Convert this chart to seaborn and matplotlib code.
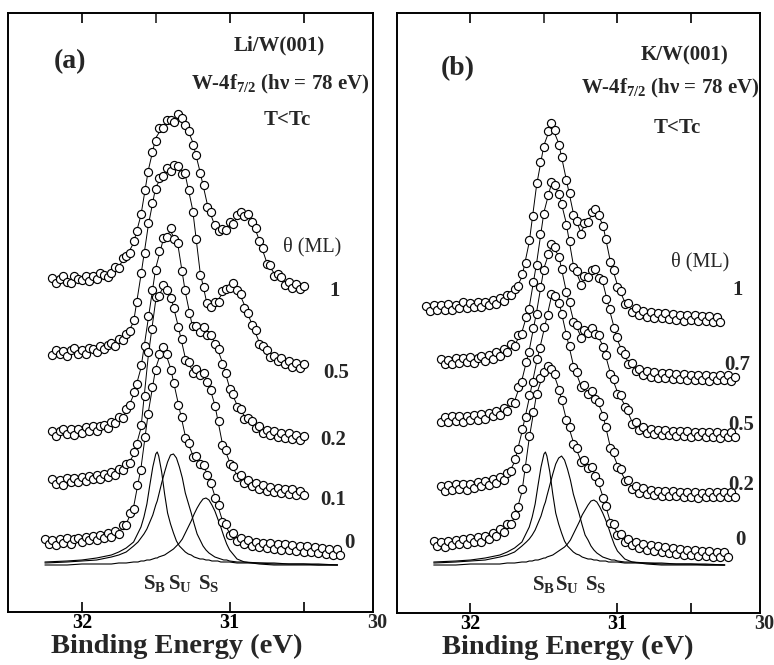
import numpy as np
import matplotlib
matplotlib.use("Agg")
import matplotlib.pyplot as plt
import seaborn as sns

# ---------------------------------------------------------------------------
# W-4f7/2 core-level spectra (binding energy in eV, intensity in arb. units)
# Fitted curves are sampled every 0.05 eV, measured points every 0.025 eV,
# both starting at the listed energy and running toward lower binding energy.
# ---------------------------------------------------------------------------

# Li/W(001)
li_coverage = ["1", "0.5", "0.2", "0.1", "0"]
li_start = [32.2, 32.2, 32.2, 32.2, 32.25]

li_fit_1 = [0, 0, 0, 1, 1, 2, 3, 4, 7, 14, 23, 37, 65, 110, 142, 154, 159, 162, 156, 138,
            108, 75, 54, 49, 54, 62, 65, 60, 40, 18, 7, 0, -4, -7, -8]
li_fit_05 = [0, 0, 0, 1, 1, 2, 3, 5, 7, 11, 17, 31, 78, 128, 166, 178, 184, 186, 178, 143,
             81, 47, 49, 59, 67, 65, 48, 29, 11, 0, -5, -8, -10, -12, -14]
li_fit_02 = [-1, -1, 0, 0, 1, 2, 3, 4, 7, 12, 20, 37, 64, 114, 164, 192, 201, 187, 140, 104,
             102, 100, 90, 70, 44, 27, 16, 9, 4, 0, -2, -3, -4, -5, -5]
li_fit_01 = [0, 0, 0, 1, 2, 3, 4, 5, 7, 10, 15, 27, 54, 127, 182, 194, 187, 157, 124, 111,
             109, 102, 77, 39, 20, 7, 1, -2, -5, -7, -8, -9, -10, -10, -11]
li_fit_0 = [0, 0, 0, 1, 1, 2, 3, 4, 5, 7, 10, 18, 35, 74, 130, 174, 196, 174, 140, 106,
            87, 79, 69, 46, 22, 9, 3, 0, -2, -3, -4, -4, -5, -6, -6, -7, -8, -9, -9, -10, -11]

li_pts_1 = [2, -3, 1, 4, -2, -3, 4, 1, 0, 4, -1, 4, 1, 7, 5, 3, 7, 13, 12, 22,
            24, 27, 39, 49, 66, 90, 108, 128, 139, 152, 152, 160, 160, 158, 166, 162, 155, 149, 135, 125,
            107, 95, 73, 68, 55, 49, 51, 50, 58, 56, 65, 68, 64, 66, 58, 52, 39, 32, 16, 15,
            4, 6, 3, -5, -2, -8, -4, -9, -6]
li_pts_05 = [-2, 3, -1, 2, -3, 3, 5, -1, 3, -1, 5, 4, 1, 7, 4, 8, 10, 7, 14, 13,
             19, 22, 33, 51, 80, 100, 130, 150, 164, 175, 177, 185, 182, 188, 187, 179, 180, 163, 141, 114,
             78, 66, 50, 46, 51, 51, 62, 64, 65, 70, 63, 59, 45, 40, 28, 23, 9, 7, 3, -4,
             -3, -8, -5, -11, -8, -14, -10, -15, -11]
li_pts_02 = [1, -4, 1, 3, -2, 3, -3, 3, -1, 5, 1, 6, 1, 6, 7, 4, 10, 9, 15, 14,
             23, 27, 40, 48, 67, 86, 116, 142, 162, 181, 194, 195, 204, 193, 189, 161, 142, 119, 106, 106,
             100, 105, 97, 97, 88, 83, 68, 59, 43, 38, 25, 23, 13, 14, 11, 4, 6, -1, 2, -3,
             1, -5, -1, -6, -1, -7, -3, -8, -4]
li_pts_01 = [3, -2, 2, -3, 4, 0, 4, 0, 5, 1, 6, 3, 7, 3, 8, 5, 10, 7, 13, 12,
             18, 19, 30, 38, 57, 86, 130, 153, 185, 186, 197, 192, 184, 174, 155, 143, 122, 120, 109, 113,
             107, 109, 100, 92, 76, 61, 37, 32, 18, 16, 5, 7, -1, 2, -4, -1, -7, -3, -9, -5,
             -10, -6, -11, -7, -12, -7, -13, -9, -13]
li_pts_0 = [3, -2, 2, -3, 3, -1, 4, -2, 3, 4, 0, 5, 2, 6, 2, 7, 4, 9, 5, 11,
            8, 17, 17, 29, 33, 57, 72, 105, 128, 155, 172, 188, 195, 188, 172, 159, 137, 125, 104, 99,
            85, 86, 78, 77, 67, 59, 44, 37, 20, 18, 7, 9, 1, 4, -2, 2, -4, 0, -5, -1,
            -6, -1, -7, -2, -8, -2, -8, -3, -9, -4, -10, -4, -10, -5, -11, -6, -12, -7, -13, -7,
            -13]

# K/W(001)
k_coverage = ["1", "0.7", "0.5", "0.2", "0"]
k_start = [32.3, 32.2, 32.2, 32.2, 32.25]

k_fit_1 = [0, 0, 0, 1, 1, 2, 2, 3, 4, 5, 7, 10, 17, 31, 66, 123, 163, 183, 165, 130,
           95, 76, 88, 97, 84, 48, 23, 6, -2, -5, -7, -8, -8, -9, -9, -10, -10, -11, -11, -12, -12]
k_fit_07 = [0, 0, 1, 1, 2, 2, 3, 5, 8, 12, 17, 30, 55, 99, 150, 178, 170, 140, 97, 79,
            86, 91, 80, 50, 22, 5, -4, -10, -12, -13, -14, -14, -15, -15, -15, -16, -16, -16, -16, -16, -17]
k_fit_05 = [0, 0, 1, 1, 2, 2, 3, 5, 7, 11, 19, 40, 70, 108, 152, 174, 165, 130, 100, 84,
            89, 88, 75, 48, 28, 15, -2, -8, -11, -12, -13, -13, -14, -14, -14, -14, -15, -15, -15, -15, -15]
k_fit_02 = [0, 0, 1, 1, 2, 3, 4, 6, 8, 12, 26, 56, 90, 126, 158, 191, 188, 155, 123, 103,
            96, 91, 74, 42, 23, 9, 1, -3, -4, -5, -6, -6, -6, -7, -7, -7, -7, -7, -7, -7, -7]
k_fit_0 = [0, 0, 1, 1, 2, 3, 4, 5, 8, 12, 17, 26, 52, 106, 150, 172, 177, 156, 126, 102,
           84, 78, 70, 48, 23, 11, 4, 1, -2, -4, -5, -6, -7, -8, -9, -9, -10, -10, -11, -11, -11]

k_pts_1 = [2, -3, 3, -2, 3, -2, 4, -2, 3, 0, 6, 0, 5, 1, 6, 1, 6, 3, 8, 4,
           10, 7, 13, 13, 19, 22, 34, 45, 68, 92, 125, 146, 161, 177, 185, 178, 163, 151, 128, 115,
           93, 87, 74, 85, 86, 96, 99, 93, 82, 69, 46, 38, 21, 17, 4, 5, -4, 0, -7, -3,
           -9, -4, -10, -5, -10, -5, -11, -6, -12, -7, -13, -7, -12, -7, -13, -8, -13, -8, -14, -9,
           -14]
k_pts_07 = [3, -2, 2, -2, 4, -1, 4, 0, 5, -1, 4, 6, 1, 7, 3, 10, 6, 13, 10, 18,
            16, 27, 28, 45, 53, 80, 97, 128, 148, 167, 180, 177, 168, 158, 137, 121, 95, 91, 77, 86,
            85, 92, 93, 84, 82, 63, 53, 34, 25, 12, 8, -2, -1, -9, -7, -13, -9, -15, -10, -16,
            -11, -16, -11, -17, -12, -17, -12, -18, -13, -18, -13, -18, -13, -19, -14, -18, -13, -18, -13, -19,
            -15]
k_pts_05 = [-2, 3, -2, 4, -1, 4, -2, 4, 0, 5, 0, 6, 1, 7, 4, 9, 5, 12, 9, 18,
            17, 33, 38, 58, 68, 92, 106, 133, 150, 166, 176, 173, 163, 151, 128, 118, 98, 95, 82, 90,
            87, 92, 86, 85, 73, 65, 46, 41, 26, 25, 13, 10, -4, -2, -10, -7, -13, -9, -14, -10,
            -15, -10, -15, -11, -16, -11, -16, -11, -17, -12, -16, -12, -17, -12, -17, -12, -18, -13, -17, -12,
            -17]
k_pts_02 = [2, -3, 3, -2, 4, -1, 4, -2, 4, 0, 6, 2, 7, 3, 9, 5, 11, 8, 15, 17,
            29, 39, 59, 71, 93, 106, 129, 140, 161, 173, 194, 192, 185, 174, 153, 142, 121, 116, 101, 103,
            94, 97, 89, 86, 72, 61, 40, 36, 21, 19, 7, 8, -1, 2, -5, 0, -6, -2, -7, -3,
            -8, -3, -8, -3, -8, -4, -9, -4, -9, -4, -10, -5, -9, -4, -9, -4, -9, -4, -9, -4,
            -9]
k_pts_0 = [3, -2, 2, -3, 3, -1, 4, 0, 5, 0, 6, 2, 7, 2, 8, 5, 11, 8, 15, 12,
           20, 20, 29, 37, 55, 76, 108, 132, 150, 166, 172, 178, 175, 170, 154, 144, 124, 117, 100, 96,
           82, 84, 76, 77, 68, 62, 46, 38, 21, 20, 9, 10, 2, 5, -1, 2, -4, 0, -6, -1,
           -7, -2, -8, -3, -9, -4, -10, -5, -11, -6, -11, -6, -12, -7, -12, -7, -13, -8, -13, -8,
           -13]

# Clean-surface decomposition: bulk (S_B), subsurface (S_U) and surface (S_S) components
comp_energy = [32.25, 32.1, 32.0, 31.9, 31.8, 31.75, 31.7, 31.65, 31.62, 31.6,
               31.58, 31.56, 31.54, 31.52, 31.5, 31.49, 31.48, 31.46, 31.44, 31.42,
               31.4, 31.38, 31.36, 31.34, 31.32, 31.3, 31.28, 31.26, 31.24, 31.22,
               31.2, 31.18, 31.16, 31.14, 31.12, 31.1, 31.08, 31.06, 31.04, 31.02,
               31.0, 30.95, 30.9, 30.8, 30.7, 30.6, 30.5, 30.4, 30.27]

li_sb = [3, 4, 5, 7, 10, 13, 17, 23, 32, 38, 48, 61, 80, 98, 111, 113, 109, 93, 71, 52,
         41, 32, 24, 19, 16, 13, 11, 10, 8, 7, 6, 6, 5, 5, 4, 4, 4, 3, 3, 3,
         3, 2, 2, 2, 1, 1, 1, 0, 0]
li_su = [2, 3, 4, 5, 8, 10, 13, 19, 23, 27, 31, 36, 43, 50, 60, 64, 70, 82, 93, 103,
         110, 111, 107, 98, 87, 72, 62, 52, 41, 31, 25, 19, 15, 12, 10, 8, 7, 6, 5, 5,
         4, 3, 3, 2, 2, 1, 1, 1, 0]
li_ss = [0, 0, 1, 1, 1, 2, 2, 3, 3, 4, 4, 5, 5, 6, 7, 7, 8, 9, 10, 12,
         14, 16, 19, 22, 26, 32, 38, 44, 51, 57, 62, 66, 67, 65, 60, 54, 46, 38, 29, 21,
         15, 6, 3, 1, 0, 0, 0, 0, 0]

k_sb = [3, 4, 5, 7, 10, 13, 17, 23, 32, 38, 48, 61, 80, 98, 111, 113, 109, 93, 71, 52,
        41, 32, 24, 19, 16, 13, 11, 10, 8, 7, 6, 6, 5, 5, 4, 4, 4, 3, 3, 3,
        3, 2, 2, 2, 1, 1, 1, 0, 0]
k_su = [2, 3, 4, 5, 8, 10, 13, 19, 23, 26, 30, 35, 42, 49, 59, 63, 69, 80, 91, 101,
        107, 109, 105, 96, 85, 71, 61, 51, 40, 30, 25, 19, 15, 12, 10, 8, 7, 6, 5, 5,
        4, 3, 3, 2, 2, 1, 1, 1, 0]
k_ss = [0, 0, 1, 1, 1, 2, 2, 3, 3, 4, 4, 5, 5, 6, 7, 7, 8, 9, 10, 12,
        14, 16, 18, 21, 25, 31, 37, 43, 50, 55, 60, 64, 65, 63, 58, 52, 45, 37, 28, 20,
        14, 6, 3, 1, 0, 0, 0, 0, 0]

# ---------------------------------------------------------------------------
# Layout: vertical stacking offsets and label placement
# ---------------------------------------------------------------------------
li_offset = [332, 259, 180, 130, 70]
k_offset = [305, 251, 193, 125, 69]
li_comp_base = 47
k_comp_base = 48
li_label_xy = [(30.29, 321), (30.28, 239), (30.30, 172), (30.30, 112), (30.19, 69)]
k_label_xy = [(30.185, 323), (30.185, 248), (30.16, 188), (30.16, 128), (30.16, 73)]

FIT_STEP = 0.05
PT_STEP = 0.025

sns.set_theme(style="white")
plt.rcParams["font.family"] = ["Liberation Serif", "DejaVu Serif"]
plt.rcParams["mathtext.fontset"] = "custom"
plt.rcParams["mathtext.rm"] = "Liberation Serif"
plt.rcParams["mathtext.bf"] = "Liberation Serif:bold"
plt.rcParams["mathtext.it"] = "Liberation Serif:italic"
plt.rcParams["axes.edgecolor"] = "black"


def energies(start, step, n):
    return start - step * np.arange(n)


def draw_panel(ax, fits, points, starts, offsets, comps, comp_base,
               coverage, label_xy, tag, system, tag_xy, sys_xy, line_xy, tc_xy,
               theta_xy, comp_label_x, ylim, xlabel_x):
    # stacked spectra: smooth fit plus measured points
    for fit, pts, e0, off in zip(fits, points, starts, offsets):
        e_fit = energies(e0, FIT_STEP, len(fit))
        sns.lineplot(x=e_fit, y=np.asarray(fit, float) + off, ax=ax, color="black",
                     lw=0.7, sort=False, estimator=None, zorder=2)
        e_pts = energies(e0, PT_STEP, len(pts))
        sns.scatterplot(x=e_pts, y=np.asarray(pts, float) + off, ax=ax, marker="o",
                        s=34, facecolor="white", edgecolor="black", linewidth=0.85,
                        zorder=3)
    # component peaks of the clean surface
    for comp in comps:
        assert len(comp) == len(comp_energy)
        sns.lineplot(x=comp_energy, y=np.asarray(comp, float) + comp_base, ax=ax,
                     color="black", lw=0.8, sort=False, estimator=None, zorder=1)

    for txt, (x, y) in zip(coverage, label_xy):
        ax.text(x, y, txt, ha="center", va="center", fontsize=15, fontweight="bold")

    for txt, x in zip([r"S$_{\mathbf{B}}$", r"S$_{\mathbf{U}}$", r"S$_{\mathbf{S}}$"],
                      comp_label_x):
        ax.text(x, 23, txt, ha="left", va="baseline", fontsize=15, fontweight="bold")

    ax.text(*tag_xy, tag, transform=ax.transAxes, ha="center", va="center",
            fontsize=20, fontweight="bold")
    ax.text(*sys_xy, system, transform=ax.transAxes, ha="center", va="center",
            fontsize=15, fontweight="bold")
    ax.text(*line_xy, r"W-4f$_{\mathbf{7/2}}$ (hν = 78 eV)",
            transform=ax.transAxes, ha="center", va="center", fontsize=15,
            fontweight="bold")
    ax.text(*tc_xy, "T<Tc", transform=ax.transAxes, ha="center", va="center",
            fontsize=15, fontweight="bold")
    ax.text(*theta_xy, "θ (ML)", transform=ax.transAxes, ha="center", va="center",
            fontsize=14.5)

    ax.set_xlim(32.5, 30.03)
    ax.set_ylim(*ylim)
    ax.set_yticks([])
    ax.set_ylabel("")
    ax.set_xticks([32, 31, 30.5])
    ax.set_xticklabels(["32", "31", ""])
    ax.set_xticks([31.5], minor=True)
    for lbl in ax.get_xticklabels():
        lbl.set_fontweight("bold")
    ax.tick_params(axis="x", which="major", direction="in", length=7, width=1.2,
                   top=True, bottom=True, labelsize=14.5, pad=1, colors="black")
    ax.tick_params(axis="x", which="minor", direction="in", length=7, width=1.2,
                   top=True, bottom=False)
    ax.annotate("30", xy=(30.0, 0), xycoords=("data", "axes fraction"),
                xytext=(0, -1), textcoords="offset points", ha="center", va="top",
                fontsize=14.5, fontweight="bold", annotation_clip=False)
    ax.set_xlabel("Binding Energy (eV)", fontsize=20.5, fontweight="bold")
    ax.xaxis.set_label_coords(xlabel_x, -0.037)
    for sp in ax.spines.values():
        sp.set_visible(True)
        sp.set_linewidth(1.4)
        sp.set_color("black")


fig = plt.figure(figsize=(7.74, 6.65), dpi=100)
ax_li = fig.add_axes([0.0103, 0.0797, 0.4716, 0.9008])
ax_k = fig.add_axes([0.5129, 0.0782, 0.4690, 0.9020])

draw_panel(ax_li,
           [li_fit_1, li_fit_05, li_fit_02, li_fit_01, li_fit_0],
           [li_pts_1, li_pts_05, li_pts_02, li_pts_01, li_pts_0],
           li_start, li_offset, [li_sb, li_su, li_ss], li_comp_base,
           li_coverage, li_label_xy, "(a)", "Li/W(001)",
           (0.170, 0.918), (0.742, 0.946), (0.745, 0.880), (0.764, 0.821),
           (0.833, 0.609), [31.588, 31.419, 31.216], (0, 599), 0.463)

draw_panel(ax_k,
           [k_fit_1, k_fit_07, k_fit_05, k_fit_02, k_fit_0],
           [k_pts_1, k_pts_07, k_pts_05, k_pts_02, k_pts_0],
           k_start, k_offset, [k_sb, k_su, k_ss], k_comp_base,
           k_coverage, k_label_xy, "(b)", "K/W(001)",
           (0.168, 0.908), (0.793, 0.930), (0.752, 0.874), (0.771, 0.808),
           (0.835, 0.585), [31.582, 31.425, 31.219], (0, 600), 0.471)

fig.savefig("out.png", dpi=100)
